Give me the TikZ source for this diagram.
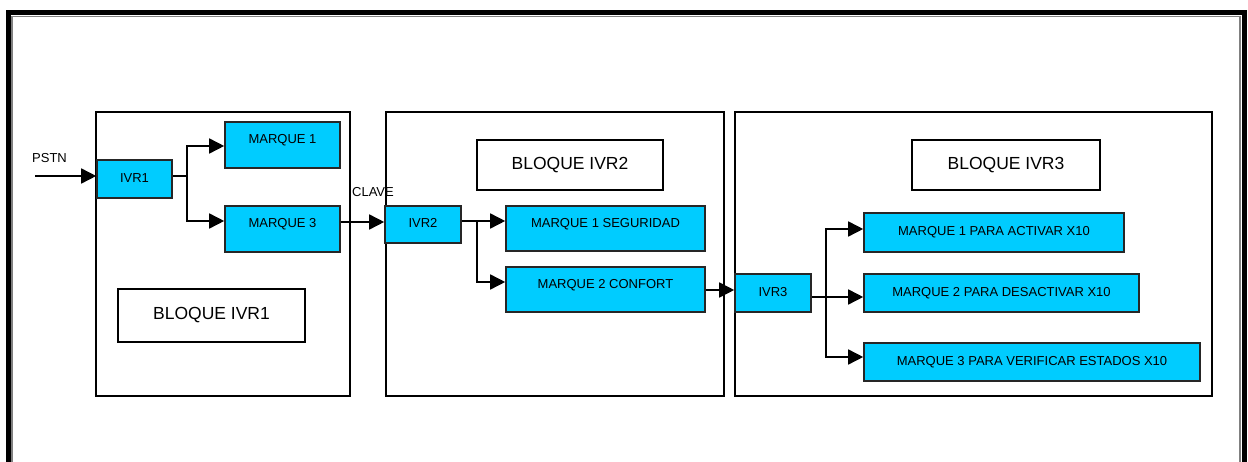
\documentclass[tikz,border=0pt]{standalone}
\usepackage{fontspec}
\setmainfont{Liberation Sans}
\usetikzlibrary{arrows.meta}
\definecolor{boxcyan}{RGB}{0,204,255}
\definecolor{framegray}{RGB}{128,128,128}
\tikzset{
  ivrbox/.style={draw=black!85, line width=1.6pt, fill=boxcyan, inner sep=0pt,
    font=\fontsize{13}{15}\selectfont, text height=9.5pt, text depth=2.5pt},
  raised/.style={text depth=11.5pt},
  block/.style={draw=black, line width=2pt, inner sep=0pt},
  blocktitle/.style={draw=black, line width=1.6pt, inner sep=0pt, fill=white,
    font=\fontsize{17.5}{20}\selectfont},
  plain/.style={font=\fontsize{13}{15}\selectfont, inner sep=0pt},
  conn/.style={line width=1.6pt},
  arr/.style={conn, -{Triangle[length=15pt,width=15pt]}}
}
\begin{document}
\begin{tikzpicture}[x=1pt,y=-1pt]
\useasboundingbox (0,0) rectangle (1248,462);
\clip (0,0) rectangle (1248,462);

% page frame (open at the bottom)
\draw[line width=4.5pt] (8.5,470) -- (8.5,12.5) -- (1244.5,12.5) -- (1244.5,470);
\draw[framegray, line width=1.5pt] (12,470) -- (12,16.5) -- (1240,16.5) -- (1240,470);

% the three blocks
\node[block, minimum width=254pt, minimum height=284pt] (blk1) at (223,254) {};
\node[block, minimum width=338pt, minimum height=284pt] (blk2) at (555,254) {};
\node[block, minimum width=477pt, minimum height=284pt] (blk3) at (973.5,254) {};

\node[blocktitle, minimum width=187pt, minimum height=53pt] (lbl1) at (211.5,315.5) {BLOQUE IVR1};
\node[blocktitle, minimum width=186pt, minimum height=50pt] (lbl2) at (570,165) {BLOQUE IVR2};
\node[blocktitle, minimum width=188pt, minimum height=50pt] (lbl3) at (1006,165) {BLOQUE IVR3};

% block 1
\node[ivrbox, minimum width=75pt, minimum height=38pt] (ivr1) at (134.5,179) {IVR1};
\node[ivrbox, raised, minimum width=115pt, minimum height=46pt] (m1) at (282.5,145) {MARQUE 1};
\node[ivrbox, raised, minimum width=115pt, minimum height=46pt] (m3) at (282.5,229) {MARQUE 3};

% block 2
\node[ivrbox, minimum width=76pt, minimum height=37pt] (ivr2) at (423,224.5) {IVR2};
\node[ivrbox, raised, minimum width=199pt, minimum height=45pt] (seg) at (605.5,228.5) {MARQUE 1 SEGURIDAD};
\node[ivrbox, raised, minimum width=199pt, minimum height=45pt] (conf) at (605.5,289.5) {MARQUE 2 CONFORT};

% block 3
\node[ivrbox, minimum width=76pt, minimum height=38pt] (ivr3) at (773,293) {IVR3};
\node[ivrbox, minimum width=260pt, minimum height=39pt] (act) at (994,232.5) {MARQUE 1 PARA ACTIVAR X10};
\node[ivrbox, minimum width=275pt, minimum height=38pt] (des) at (1001.5,293) {MARQUE 2 PARA DESACTIVAR X10};
\node[ivrbox, minimum width=336pt, minimum height=38pt] (ver) at (1032,362) {MARQUE 3 PARA VERIFICAR ESTADOS X10};

% free labels
\node[plain] (pstnlbl) at (49.5,158) {PSTN};
\node[plain] (clave) at (373,192) {CLAVE};

% connectors
\coordinate (pstn) at (35,176);
\coordinate (j1) at (187,176);
\coordinate (j2) at (477,221);
\coordinate (j3) at (826,297);

\draw[arr] (pstn) -- (pstn -| ivr1.west);
\draw[conn] (j1 -| ivr1.east) -- (j1);
\draw[arr] (j1) |- (m1.west |- 0,146);
\draw[arr] (j1) |- (m3.west |- 0,221);

\draw[arr] (m3.east |- 0,222) -- (ivr2.west |- 0,222);
\draw[conn] (j2 -| ivr2.east) -- (j2);
\draw[arr] (j2) -- (j2 -| seg.west);
\draw[arr] (j2) |- (conf.west |- 0,282);

\draw[arr] (conf.east |- 0,290) -- (ivr3.west |- 0,290);
\draw[conn] (j3 -| ivr3.east) -- (j3);
\draw[arr] (j3) |- (act.west |- 0,229);
\draw[arr] (j3) -- (j3 -| des.west);
\draw[arr] (j3) |- (ver.west |- 0,357);
\end{tikzpicture}
\end{document}
